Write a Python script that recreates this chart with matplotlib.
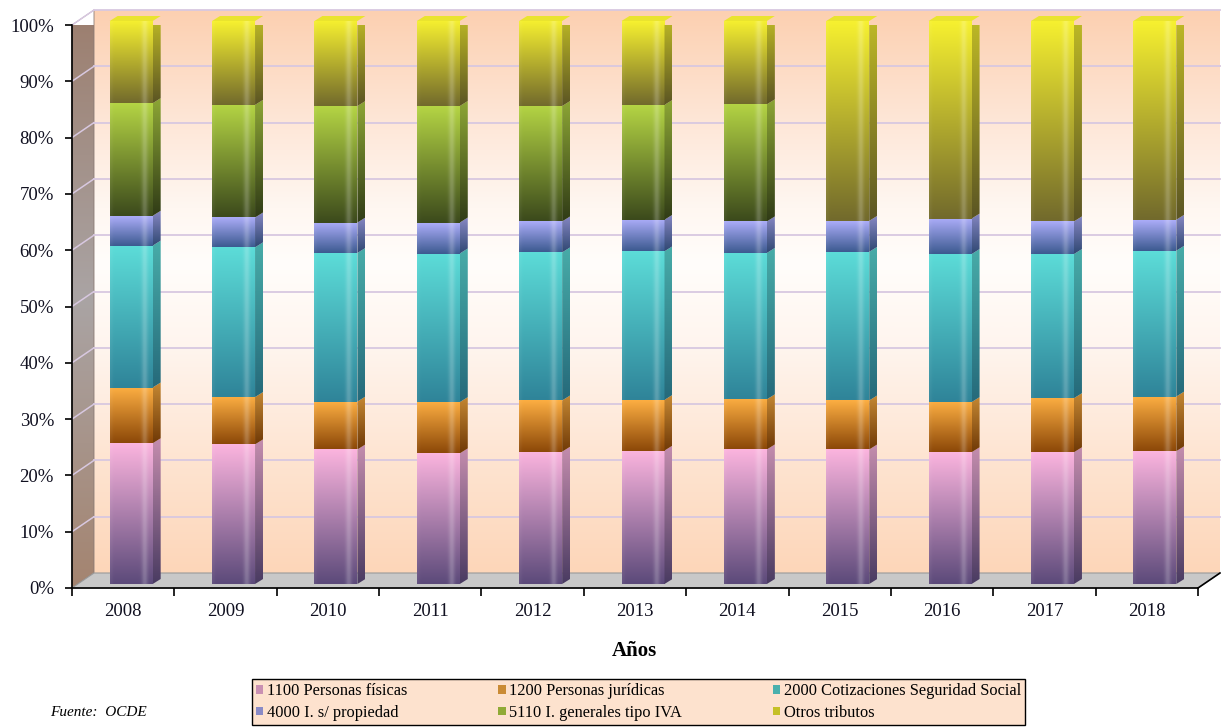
import matplotlib
matplotlib.use('Agg')
import matplotlib.pyplot as plt
import matplotlib.transforms as mtransforms
from matplotlib.patches import Polygon, Rectangle
from matplotlib.colors import to_rgb
import numpy as np

plt.rcParams['font.family'] = ['Liberation Serif', 'DejaVu Serif']

years = ['2008', '2009', '2010', '2011', '2012', '2013', '2014', '2015', '2016', '2017', '2018']
personas_fisicas = [25.0, 24.8, 23.9, 23.2, 23.5, 23.7, 23.9, 23.9, 23.4, 23.4, 23.6]
personas_juridicas = [9.9, 8.4, 8.5, 9.1, 9.1, 9.0, 8.9, 8.7, 8.9, 9.6, 9.7]
cotizaciones = [25.2, 26.6, 26.4, 26.4, 26.3, 26.4, 26.0, 26.4, 26.3, 25.6, 25.9]
propiedad = [5.3, 5.3, 5.4, 5.5, 5.5, 5.6, 5.6, 5.5, 6.3, 5.8, 5.5]
iva = [20.0, 20.0, 20.7, 20.7, 20.5, 20.4, 20.8, 0, 0, 0, 0]
otros = [14.6, 14.9, 15.1, 15.1, 15.1, 14.9, 14.8, 35.5, 35.1, 35.6, 35.3]

series = [personas_fisicas, personas_juridicas, cotizaciones, propiedad, iva, otros]
labels = ['1100 Personas físicas', '1200 Personas jurídicas', '2000 Cotizaciones Seguridad Social',
          '4000 I. s/ propiedad', '5110 I. generales tipo IVA', 'Otros tributos']
# (top colour, bottom colour) of each gradient
colors = [('#fbb4de', '#5c4a7a'), ('#fcae42', '#8c4808'), ('#5cdcd8', '#2f8499'),
          ('#abacf8', '#3c5a90'), ('#b4d444', '#3c4a1c'), ('#f6f030', '#726a2c')]

W, H = 1221, 727
fig = plt.figure(figsize=(W / 100, H / 100), dpi=100)
ax = fig.add_axes([72 / W, 139 / H, 1126 / W, 563 / H])
ax.set_xlim(-0.5, 10.5)
ax.set_ylim(0, 100)
ax.set_facecolor('none')

px_x = 1126 / 11.0
px_y = 563 / 100.0
wdx, wdy = 22 / px_x, 15 / px_y      # depth of walls
bdx, bdy = 8 / px_x, 5 / px_y        # depth of bars
bar_shift = ax.transData + mtransforms.ScaledTranslation(8 / 100, 4 / 100, fig.dpi_scale_trans)
bar_w = 0.42


def gradient(top, bottom, n=80, m=30, band=0.0):
    t = np.array(to_rgb(top))
    b = np.array(to_rgb(bottom))
    v = np.linspace(1, 0, n)[:, None, None]
    img = np.repeat(b + (t - b) * v, m, axis=1)
    if band:
        u = np.linspace(0, 1, m)
        hl = band * np.exp(-((u - 0.82) / 0.07) ** 2) + 0.05 * np.exp(-(u / 0.05) ** 2)
        img = img + hl[None, :, None] * (1 - img)
    return np.clip(img, 0, 1)


def shade(c, f):
    return tuple(np.clip(np.array(to_rgb(c)) * f, 0, 1))


# back wall
wall_stops = [(0, '#fdd6b9'), (20, '#fee4d1'), (40, '#fff5ee'), (55, '#fffdfb'),
              (65, '#fff7f1'), (80, '#fee7d8'), (100, '#fcd0b1')]
yy = np.linspace(100, 0, 200)
wall = np.stack([np.interp(yy, [s[0] for s in wall_stops], [to_rgb(s[1])[k] for s in wall_stops])
                 for k in range(3)], axis=-1)[:, None, :]
im = ax.imshow(wall, extent=(-0.5 + wdx, 10.5 + wdx, wdy, 100 + wdy), aspect='auto',
               origin='upper', zorder=0, interpolation='bilinear')
im.set_clip_on(False)

# left wall
side_stops = [(0, '#a48470'), (50, '#aaa4a4'), (100, '#9c7e6e')]
side = np.stack([np.interp(yy, [s[0] for s in side_stops], [to_rgb(s[1])[k] for s in side_stops])
                 for k in range(3)], axis=-1)[:, None, :]
lw_poly = Polygon([(-0.5, 0), (-0.5, 100), (-0.5 + wdx, 100 + wdy), (-0.5 + wdx, wdy)],
                  closed=True, facecolor='none', edgecolor='#8a7a74', lw=0.6, zorder=0.6, clip_on=False)
ax.add_patch(lw_poly)
im = ax.imshow(side, extent=(-0.5, -0.5 + wdx, 0, 100 + wdy), aspect='auto', origin='upper',
               zorder=0.5, interpolation='bilinear')
im.set_clip_path(lw_poly)

# gridlines on walls
for g in range(10, 101, 10):
    ax.plot([-0.5 + wdx, 10.5 + wdx], [g + wdy, g + wdy], color='#d8c8e0', lw=1.3, zorder=0.7, clip_on=False)
    ax.plot([-0.5, -0.5 + wdx], [g, g + wdy], color='#d8c8e0', lw=1.1, zorder=0.7, clip_on=False)

# floor
floor = Polygon([(-0.5, 0), (10.5, 0), (10.5 + wdx, wdy), (-0.5 + wdx, wdy)], closed=True,
                facecolor='#c8c8c8', edgecolor='#9a9a9a', lw=0.8, zorder=0.8, clip_on=False)
ax.add_patch(floor)
ax.plot([10.5, 10.5 + wdx], [0, wdy], color='black', lw=1.2, zorder=1, clip_on=False)

# stacked bars
x = np.arange(len(years))
bottom = np.zeros(len(years))
for k, vals in enumerate(series):
    vals = np.array(vals, dtype=float)
    top_c, bot_c = colors[k]
    bars = ax.bar(x, vals, bar_w, bottom=bottom, facecolor='none', edgecolor='none', zorder=3)
    for i, patch in enumerate(bars.patches):
        if vals[i] <= 0:
            continue
        patch.set_transform(bar_shift)
        x0, x1 = x[i] - bar_w / 2, x[i] + bar_w / 2
        b0, b1 = bottom[i], bottom[i] + vals[i]
        im = ax.imshow(gradient(top_c, bot_c, band=0.22), extent=(x0, x1, b0, b1), aspect='auto',
                       origin='upper', zorder=3, interpolation='bilinear', transform=bar_shift)
        im.set_clip_path(patch)
        sp = Polygon([(x1, b0), (x1, b1), (x1 + bdx, b1 + bdy), (x1 + bdx, b0 + bdy)], closed=True,
                     facecolor='none', edgecolor='none', transform=bar_shift, zorder=3)
        ax.add_patch(sp)
        im = ax.imshow(gradient(shade(top_c, 0.78), shade(bot_c, 0.8), m=4),
                       extent=(x1, x1 + bdx, b0, b1 + bdy), aspect='auto', origin='upper', zorder=3,
                       interpolation='bilinear', transform=bar_shift)
        im.set_clip_path(sp)
        if k == len(series) - 1:
            tp = Polygon([(x0, b1), (x1, b1), (x1 + bdx, b1 + bdy), (x0 + bdx, b1 + bdy)], closed=True,
                         facecolor=shade(top_c, 0.95), edgecolor='none', transform=bar_shift,
                         zorder=3.1, clip_on=False)
            ax.add_patch(tp)
    bottom = bottom + vals

ax.set_xlim(-0.5, 10.5)
ax.set_ylim(0, 100)

# axes
for s in ['top', 'right']:
    ax.spines[s].set_visible(False)
ax.spines['left'].set_zorder(5)
ax.spines['bottom'].set_zorder(5)
ax.spines['left'].set_linewidth(1.2)
ax.spines['bottom'].set_linewidth(1.2)
ax.set_yticks(range(0, 101, 10))
ax.set_yticklabels([f'{v}%' for v in range(0, 101, 10)])
ax.tick_params(axis='y', length=5, width=1.2, pad=8, labelsize=13.5, labelcolor='#101020')
ax.set_xticks(np.arange(-0.5, 11, 1))
ax.set_xticklabels([])
ax.tick_params(axis='x', which='major', length=6, width=1.2)
ax.set_xticks(x, minor=True)
ax.set_xticklabels(years, minor=True)
ax.tick_params(axis='x', which='minor', length=0, pad=11, labelsize=13.5, labelcolor='#101020')

fig.text(0.52, 1 - 651 / H, 'Años', ha='center', va='center', fontsize=15, fontweight='bold')
fig.text(50 / W, 1 - 712 / H, 'Fuente:  OCDE', ha='left', va='center', fontsize=11, style='italic')

# legend
handles = [Rectangle((0, 0), 1, 1, facecolor=shade(c[0], 0.8), edgecolor='none') for c in colors]
order = [0, 3, 1, 4, 2, 5]
leg = fig.legend([handles[i] for i in order], [labels[i] for i in order], ncol=3, loc='lower left',
                 bbox_to_anchor=(252 / W, 2 / H, 773 / W, 49 / H), mode='expand', frameon=True,
                 fancybox=False, edgecolor='black', facecolor='#fde2ce', framealpha=1,
                 handlelength=0.45, handleheight=0.45, handletextpad=0.2, borderpad=0.25,
                 labelspacing=0.35, borderaxespad=0, fontsize=11.8, columnspacing=0.8)
leg.get_frame().set_linewidth(1.0)

fig.savefig('out.png', dpi=100)
